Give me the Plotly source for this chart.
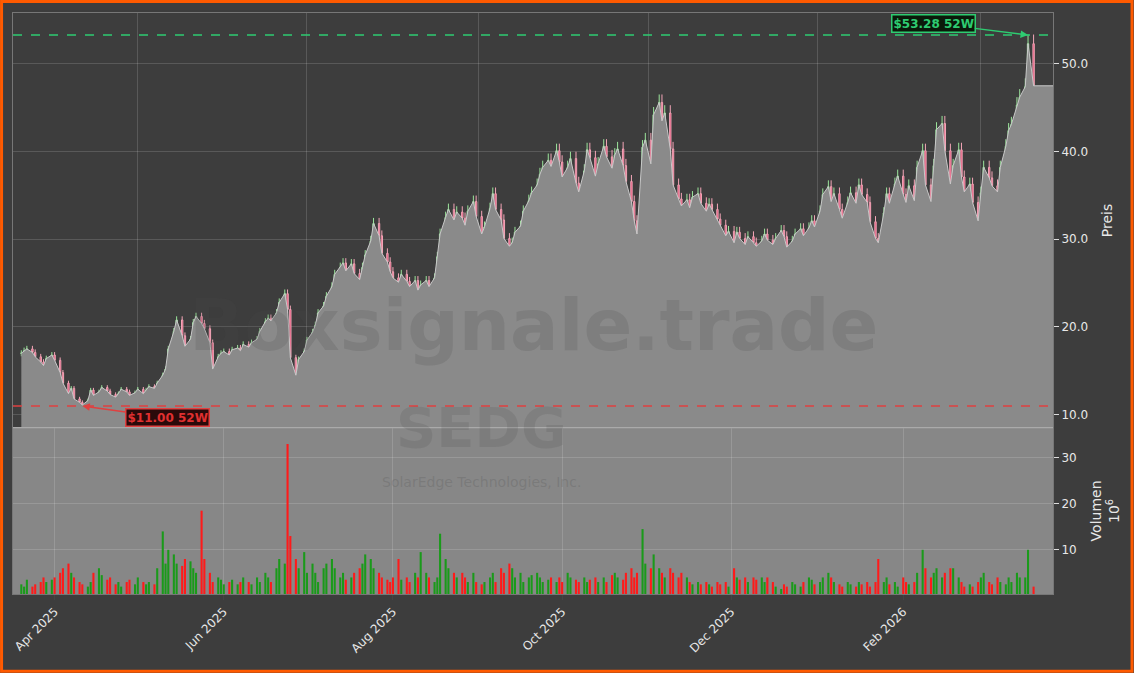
import numpy as np, pandas as pd
import plotly.graph_objects as go
from plotly.subplots import make_subplots

closes = [17.0,17.3,17.5,17.1,16.6,16.0,15.6,16.4,
16.8,16.2,14.8,13.6,12.4,13.0,11.8,11.4,11.1,11.6,12.8,
12.2,12.6,13.1,12.7,12.3,12.0,12.4,12.9,12.6,12.2,12.5,12.9,12.4,12.8,13.2,13.0,13.6,
14.5,15.2,17.5,19.5,20.8,19.0,17.8,18.6,20.5,21.2,
20.4,19.8,18.2,15.2,16.6,17.0,17.2,16.8,17.4,
17.6,17.3,18.0,17.7,18.2,18.6,19.5,20.6,21.0,20.7,21.6,22.8,23.8,22.0,
16.5,14.5,16.3,17.2,
18.5,19.4,20.2,21.6,22.4,23.5,24.6,26.0,26.8,27.3,
26.4,27.2,26.1,25.4,26.8,28.2,29.8,31.8,30.4,28.4,
27.4,26.3,25.6,25.1,26.0,25.2,24.6,25.3,24.2,24.8,
25.3,24.6,25.6,28.0,30.6,32.5,33.4,32.2,33.1,32.4,
31.6,33.2,34.3,32.6,30.6,31.4,33.5,35.2,33.4,
32.2,30.1,29.2,29.6,30.8,31.5,33.2,34.4,35.3,36.2,
37.4,38.2,39.0,38.3,40.1,38.8,37.1,38.2,39.2,36.4,
35.4,37.8,40.2,39.3,37.2,38.6,40.6,39.4,38.1,39.6,
40.3,38.4,36.6,34.3,32.1,30.6,40.5,41.3,38.6,44.2,
45.6,43.5,44.4,40.3,36.2,34.6,33.8,34.5,33.6,34.8,
35.2,34.1,33.2,34.0,33.4,32.3,31.6,30.4,30.9,
29.6,30.8,30.1,29.4,30.3,29.6,29.2,29.8,30.6,29.9,
29.4,30.1,31.0,30.3,29.1,29.8,30.6,31.2,
30.4,31.3,32.1,31.4,33.2,35.1,36.0,34.3,35.2,33.4,
32.4,34.2,35.3,34.1,36.2,35.1,34.2,32.0,30.1,
29.6,33.0,35.2,34.1,36.3,37.2,35.1,34.2,36.1,34.4,
38.2,40.1,36.2,34.3,38.4,42.5,43.2,40.1,36.3,
38.4,40.2,37.1,35.4,36.3,34.2,32.1,35.3,38.2,37.0,
36.1,35.4,38.2,40.6,42.4,43.1,45.3,46.2,47.4,52.3,47.5]

volumes = [2.5,2,3.5,2,2.5,3,4,3,
3.5,4,5,6,7,5,4,3,2.5,2,3,
5,6,4.5,3.5,4,2.5,3,2,3,3.5,2.5,4,3,2.5,3,2.5,6,
14,7,10,9,7,6.5,8,7.5,6,5,
18.5,8,5,3,4,3.5,2.5,3,3.5,
2.5,3,4,3,2.5,4,3,5,4,3,6,8,7,33,
13,8,6,9.5,
5,7,5,3,6,7,8,6,4,5,
3.5,4,5,6,7,9,8,6,5,4,
3.5,3,4,8,3.5,4,3,5,4,9.5,
5,4,3,4,13.5,8,6,5,4,5,
4,3,5,3,2.5,3,4,5,3,
6,5,7,6,4,5,3,4,4.5,5,
4,3,3.5,4,3,4,3,5,4,3.5,
3,4,3,3.5,4,3,4,3,4.5,5,
4,3.5,5,6,4,5,14.5,7,6,9,
6,5,4,6,5,4,5,4,3,2.5,
3,2.5,3,2.5,2,3,2.5,3,2,
6,4,3.5,4,3,4,3.5,4,3,4,
3,2,1.5,2.5,2,3,2.5,2,
3,4,3.5,2.5,3,4,5,4,3,2.5,
2,3,2.5,2,3,2.5,3,2,3,
8,3,4,2.5,3,2,4,3,2.5,3,
5,10,6,4,5,6,4,5,6,
6,4,3,2,2.5,2,3,4,5,3,
2.5,4,3,2.5,4,3,5,4,4,10,2]

n = min(len(closes), len(volumes))
closes = np.array(closes[:n]); volumes = np.array(volumes[:n])
t0, t1 = pd.Timestamp("2025-03-20"), pd.Timestamp("2026-03-20")
dates = pd.to_datetime(np.linspace(t0.value, t1.value, n)).normalize()
opens = np.r_[closes[0], closes[:-1]]
highs = np.maximum(opens, closes) * 1.02
lows = np.minimum(opens, closes) * 0.98
high52, low52 = 53.28, 11.00

fig = make_subplots(rows=2, cols=1, shared_xaxes=True, vertical_spacing=0,
                    row_heights=[0.714, 0.286])
fig.add_trace(go.Scatter(x=list(dates) + [t1 + pd.Timedelta(days=7)], y=list(closes) + [closes[-1]],
                         fill='tozeroy', fillcolor='rgba(138,138,138,1)', mode='lines',
                         line=dict(color='#c8c8c8', width=1), hoverinfo='skip'), 1, 1)
fig.add_trace(go.Candlestick(x=dates, open=opens, high=highs, low=lows, close=closes,
                             increasing=dict(line=dict(color='#9be59b', width=1), fillcolor='#3cb371'),
                             decreasing=dict(line=dict(color='#f4a6b8', width=1), fillcolor='#e0406a'),
                             whiskerwidth=0), 1, 1)
vcol = ['#1a9a1a' if c >= o else '#ff1a1a' for o, c in zip(opens, closes)]
fig.add_trace(go.Bar(x=dates, y=volumes, marker_color=vcol, marker_line_width=0), 2, 1)

fig.add_hline(y=high52, line=dict(color='#2ecc71', dash='dash', width=1.5), row=1, col=1)
fig.add_hline(y=low52, line=dict(color='#e04040', dash='dash', width=1.5), row=1, col=1)
fig.add_annotation(x=dates[-2], y=high52, ax=-95, ay=-12, text="<b>$53.28 52W</b>", showarrow=True,
                   arrowhead=2, arrowcolor='#2ecc71', arrowwidth=1.5, font=dict(color='#2ecc71', size=12),
                   bgcolor='#0a1a0a', bordercolor='#2ecc71', borderwidth=1.5, xref='x', yref='y')
fig.add_annotation(x=dates[16], y=low52, ax=85, ay=12, text="<b>$11.00 52W</b>", showarrow=True,
                   arrowhead=2, arrowcolor='#e04040', arrowwidth=1.5, font=dict(color='#e03030', size=12),
                   bgcolor='#2a0a0a', bordercolor='#e04040', borderwidth=1.5, xref='x', yref='y')
fig.add_annotation(x=0.5, y=0.463, xref='paper', yref='paper', text="<b>Boxsignale.trade</b>", showarrow=False,
                   font=dict(size=72, color='rgba(70,70,70,0.18)', family='DejaVu Sans'))
fig.add_annotation(x=0.45, y=0.227, xref='paper', yref='paper', text="<b>SEDG</b>", showarrow=False,
                   font=dict(size=56, color='rgba(70,70,70,0.15)', family='DejaVu Sans'))
fig.add_annotation(x=0.45, y=0.176, xref='paper', yref='paper', text="SolarEdge Technologies, Inc.", showarrow=False,
                   font=dict(size=14, color='rgba(70,70,70,0.2)', family='DejaVu Sans'))

fig.add_shape(type='rect', xref='x2 domain', yref='y2 domain', x0=0, x1=1, y0=0, y1=1,
              fillcolor='#878787', line_width=0, layer='below')
fig.add_shape(type='rect', xref='paper', yref='paper', x0=-0.011, x1=1.076, y0=-0.133, y1=1.02,
              line=dict(color='#ff5a00', width=3))
fig.add_shape(type='line', xref='paper', yref='paper', x0=0, x1=1, y0=0.286, y1=0.286,
              line=dict(color='#aaaaaa', width=1.5))

grid = 'rgba(255,255,255,0.15)'
fig.update_layout(width=1134, height=673, paper_bgcolor='#3d3d3d', plot_bgcolor='#3d3d3d',
                  margin=dict(l=13, r=81, t=13, b=79, autoexpand=False), showlegend=False,
                  font=dict(family='DejaVu Sans', color='#e8e8e8', size=12), bargap=0.25)
fig.update_xaxes(range=[pd.Timestamp("2025-03-17"), pd.Timestamp("2026-03-27")], gridcolor=grid, showline=True,
                 linecolor='#777', mirror=True, rangeslider_visible=False, automargin=False)
fig.update_xaxes(tickangle=-45, tickformat='%b %Y', dtick='M2', tick0='2025-04-01',
                 ticks='outside', row=2, col=1)
fig.update_yaxes(side='right', gridcolor=grid, showline=True, linecolor='#777', mirror=True,
                 ticks='outside', tickcolor='#ddd', automargin=False)
fig.update_yaxes(range=[8.5, 55.8], tickformat='.1f', dtick=10, title_text='Preis', row=1, col=1)
fig.update_yaxes(range=[0.4, 36.5], tickvals=[10, 20, 30], title_text='Volumen<br>10<sup>6</sup>',
                 row=2, col=1)
fig.write_html("out.html", config={'displayModeBar': False},
               post_script="document.body.style.margin='0';document.body.style.background='#3d3d3d';")
